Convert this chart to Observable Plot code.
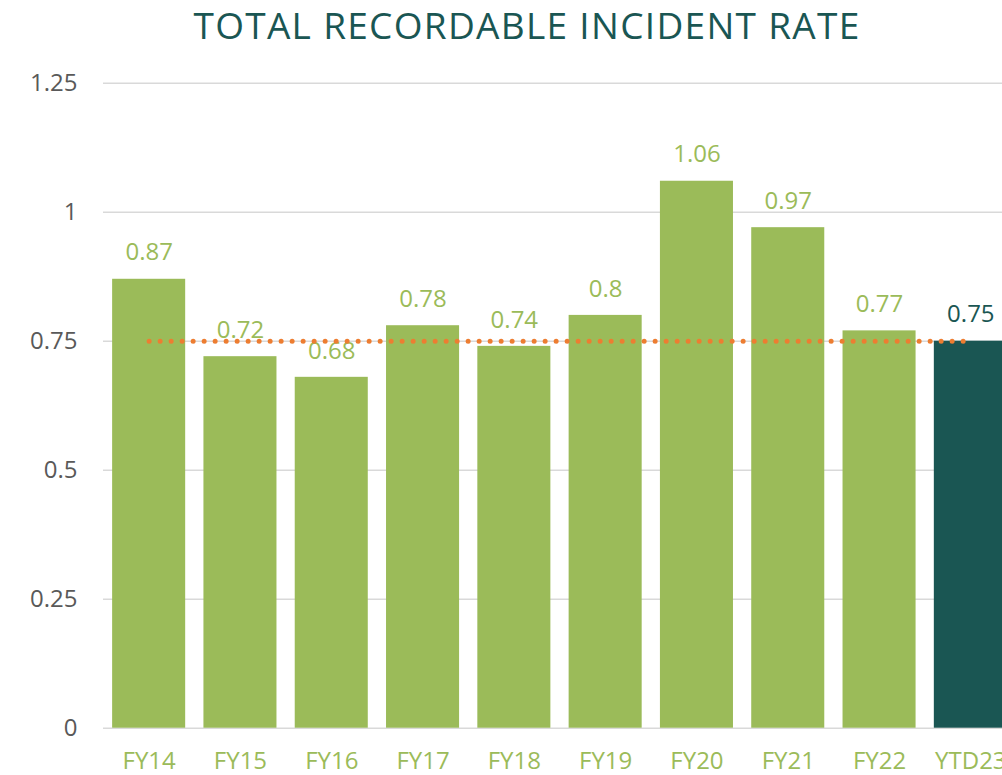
<!DOCTYPE html>
<html>
<head>
<meta charset="utf-8">
<script src="https://cdn.jsdelivr.net/npm/d3@7"></script>
<script src="https://cdn.jsdelivr.net/npm/@observablehq/plot@0.6"></script>
<style>
  html, body { margin: 0; padding: 0; background: #fff; overflow: hidden; width: 1002px; height: 775px; }
  #title { width: 1054px; height: 48px; line-height: 50px; text-align: center; font-family: "Open Sans", sans-serif; font-size: 37px; letter-spacing: 1.3px; color: #1A5653; white-space: nowrap; overflow: visible; }
  #chart { width: 1020px; }
  #chart svg { display: block; max-width: none !important; width: 1020px !important; height: 727px !important; }
</style>
</head>
<body>
<div id="title">TOTAL RECORDABLE INCIDENT RATE</div>
<div id="chart"></div>
<script>
const categories = ["FY14", "FY15", "FY16", "FY17", "FY18", "FY19", "FY20", "FY21", "FY22", "YTD23"];
const rates = [0.87, 0.72, 0.68, 0.78, 0.74, 0.8, 1.06, 0.97, 0.77, 0.75];
const highlight = ["YTD23"];
const targetRate = 0.75;
const yTicks = [0, 0.25, 0.5, 0.75, 1, 1.25];

const data = categories.map((c, i) => ({cat: c, value: rates[i], hl: highlight.includes(c)}));
const green = "#9BBB59", teal = "#1A5653", orange = "#ED7D31";

const chart = Plot.plot({
  width: 1020,
  height: 727,
  marginLeft: 103,
  marginRight: 4,
  marginTop: 34.7,
  marginBottom: 47.3,
  style: {fontFamily: "Open Sans, sans-serif", fontSize: "24px", background: "#fff", maxWidth: "none"},
  x: {domain: categories, paddingInner: 0.2, paddingOuter: 0.1, round: false, label: null},
  y: {domain: [0, 1.25], label: null},
  marks: [
    Plot.ruleY(yTicks, {stroke: "#D9D9D9", strokeWidth: 1.5}),
    Plot.barY(data, {x: "cat", y: "value", fill: d => d.hl ? teal : green}),
    Plot.text(data, {x: "cat", y: "value", text: d => String(d.value), fill: d => d.hl ? teal : green, lineAnchor: "middle", dy: -26.5, fontSize: 24}),
    Plot.lineY(categories, {x: d => d, y: () => targetRate, stroke: orange, strokeWidth: 5, strokeDasharray: "0 11", strokeLinecap: "round"}),
    Plot.axisY({ticks: yTicks, tickFormat: d => String(d), tickSize: 0, tickPadding: 26, fontSize: 24, fill: "#595959", color: "#595959"}),
    Plot.axisX({tickSize: 0, tickPadding: 24, fontSize: 24, color: green, fill: green})
  ]
});
document.getElementById("chart").appendChild(chart);
</script>
</body>
</html>
